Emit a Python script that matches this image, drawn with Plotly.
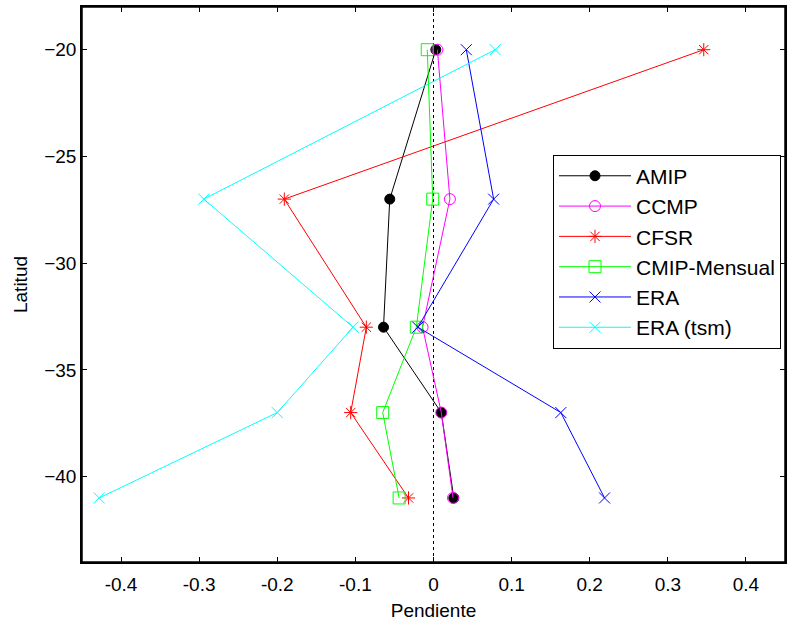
import plotly.graph_objects as go

latitudes = [-20, -27, -33, -37, -41]
amip = [0.003, -0.056, -0.064, 0.010, 0.026]
ccmp = [0.005, 0.021, -0.014, 0.010, 0.025]
cfsr = [0.346, -0.191, -0.086, -0.106, -0.032]
cmip_mensual = [-0.008, -0.001, -0.022, -0.065, -0.044]
era = [0.042, 0.077, -0.020, 0.163, 0.219]
era_tsm = [0.079, -0.294, -0.103, -0.200, -0.428]

x_ticks = [-0.4, -0.3, -0.2, -0.1, 0, 0.1, 0.2, 0.3, 0.4]
x_tick_labels = ["-0.4", "-0.3", "-0.2", "-0.1", "0", "0.1", "0.2", "0.3", "0.4"]
y_ticks = [-40, -35, -30, -25, -20]

series = [
    ("AMIP", amip, "black", "circle", 10),
    ("CCMP", ccmp, "magenta", "circle-open", 11),
    ("CFSR", cfsr, "red", "asterisk-open", 11),
    ("CMIP-Mensual", cmip_mensual, "#00ff00", "square-open", 12),
    ("ERA", era, "blue", "x-thin-open", 11),
    ("ERA (tsm)", era_tsm, "cyan", "x-thin-open", 11),
]

fig = go.Figure()
for name, vals, color, sym, size in series:
    fig.add_trace(go.Scatter(
        x=vals, y=latitudes, mode="lines+markers", name=name,
        legendgroup=name,
        line=dict(color=color, width=1),
        marker=dict(symbol=sym, size=size, color=color,
                    line=dict(color=color, width=1)),
    ))

fig.add_shape(type="line", xref="x", yref="paper", x0=0, x1=0, y0=0, y1=1,
              line=dict(color="black", width=1, dash="dot"), layer="below")
fig.add_shape(type="rect", xref="paper", yref="paper", x0=0, x1=1, y0=0, y1=1,
              line=dict(color="black", width=1.5), fillcolor="rgba(0,0,0,0)",
              layer="above")

font_family = "Liberation Sans, Arial, sans-serif"
fig.update_layout(
    width=801, height=624,
    margin=dict(l=82, r=16, t=7, b=62),
    paper_bgcolor="white", plot_bgcolor="white",
    font=dict(family=font_family, size=19, color="black"),
    showlegend=True,
    legend=dict(
        x=0.67, y=0.734, xanchor="left", yanchor="top",
        bgcolor="white", bordercolor="black", borderwidth=1,
        font=dict(size=21), tracegroupgap=0, itemwidth=72,
    ),
    xaxis=dict(
        range=[-0.45, 0.45], tickvals=x_ticks, ticktext=x_tick_labels,
        ticks="inside", ticklen=5, tickcolor="black", tickwidth=1,
        showline=True, linecolor="black", linewidth=1.5, mirror="ticks",
        showgrid=False, zeroline=False, automargin=False,
        ticklabelstandoff=4,
        title=dict(text="Pendiente", standoff=10, font=dict(size=19)),
    ),
    yaxis=dict(
        range=[-44, -18], tickvals=y_ticks,
        ticks="inside", ticklen=5, tickcolor="black", tickwidth=1,
        showline=True, linecolor="black", linewidth=1.5, mirror="ticks",
        showgrid=False, zeroline=False, automargin=False,
        title=dict(text="Latitud", standoff=12, font=dict(size=19)),
    ),
)

fig.write_html("out.html", config={"displayModeBar": False},
               post_script="document.body.style.margin='0';document.body.style.overflow='hidden';")
